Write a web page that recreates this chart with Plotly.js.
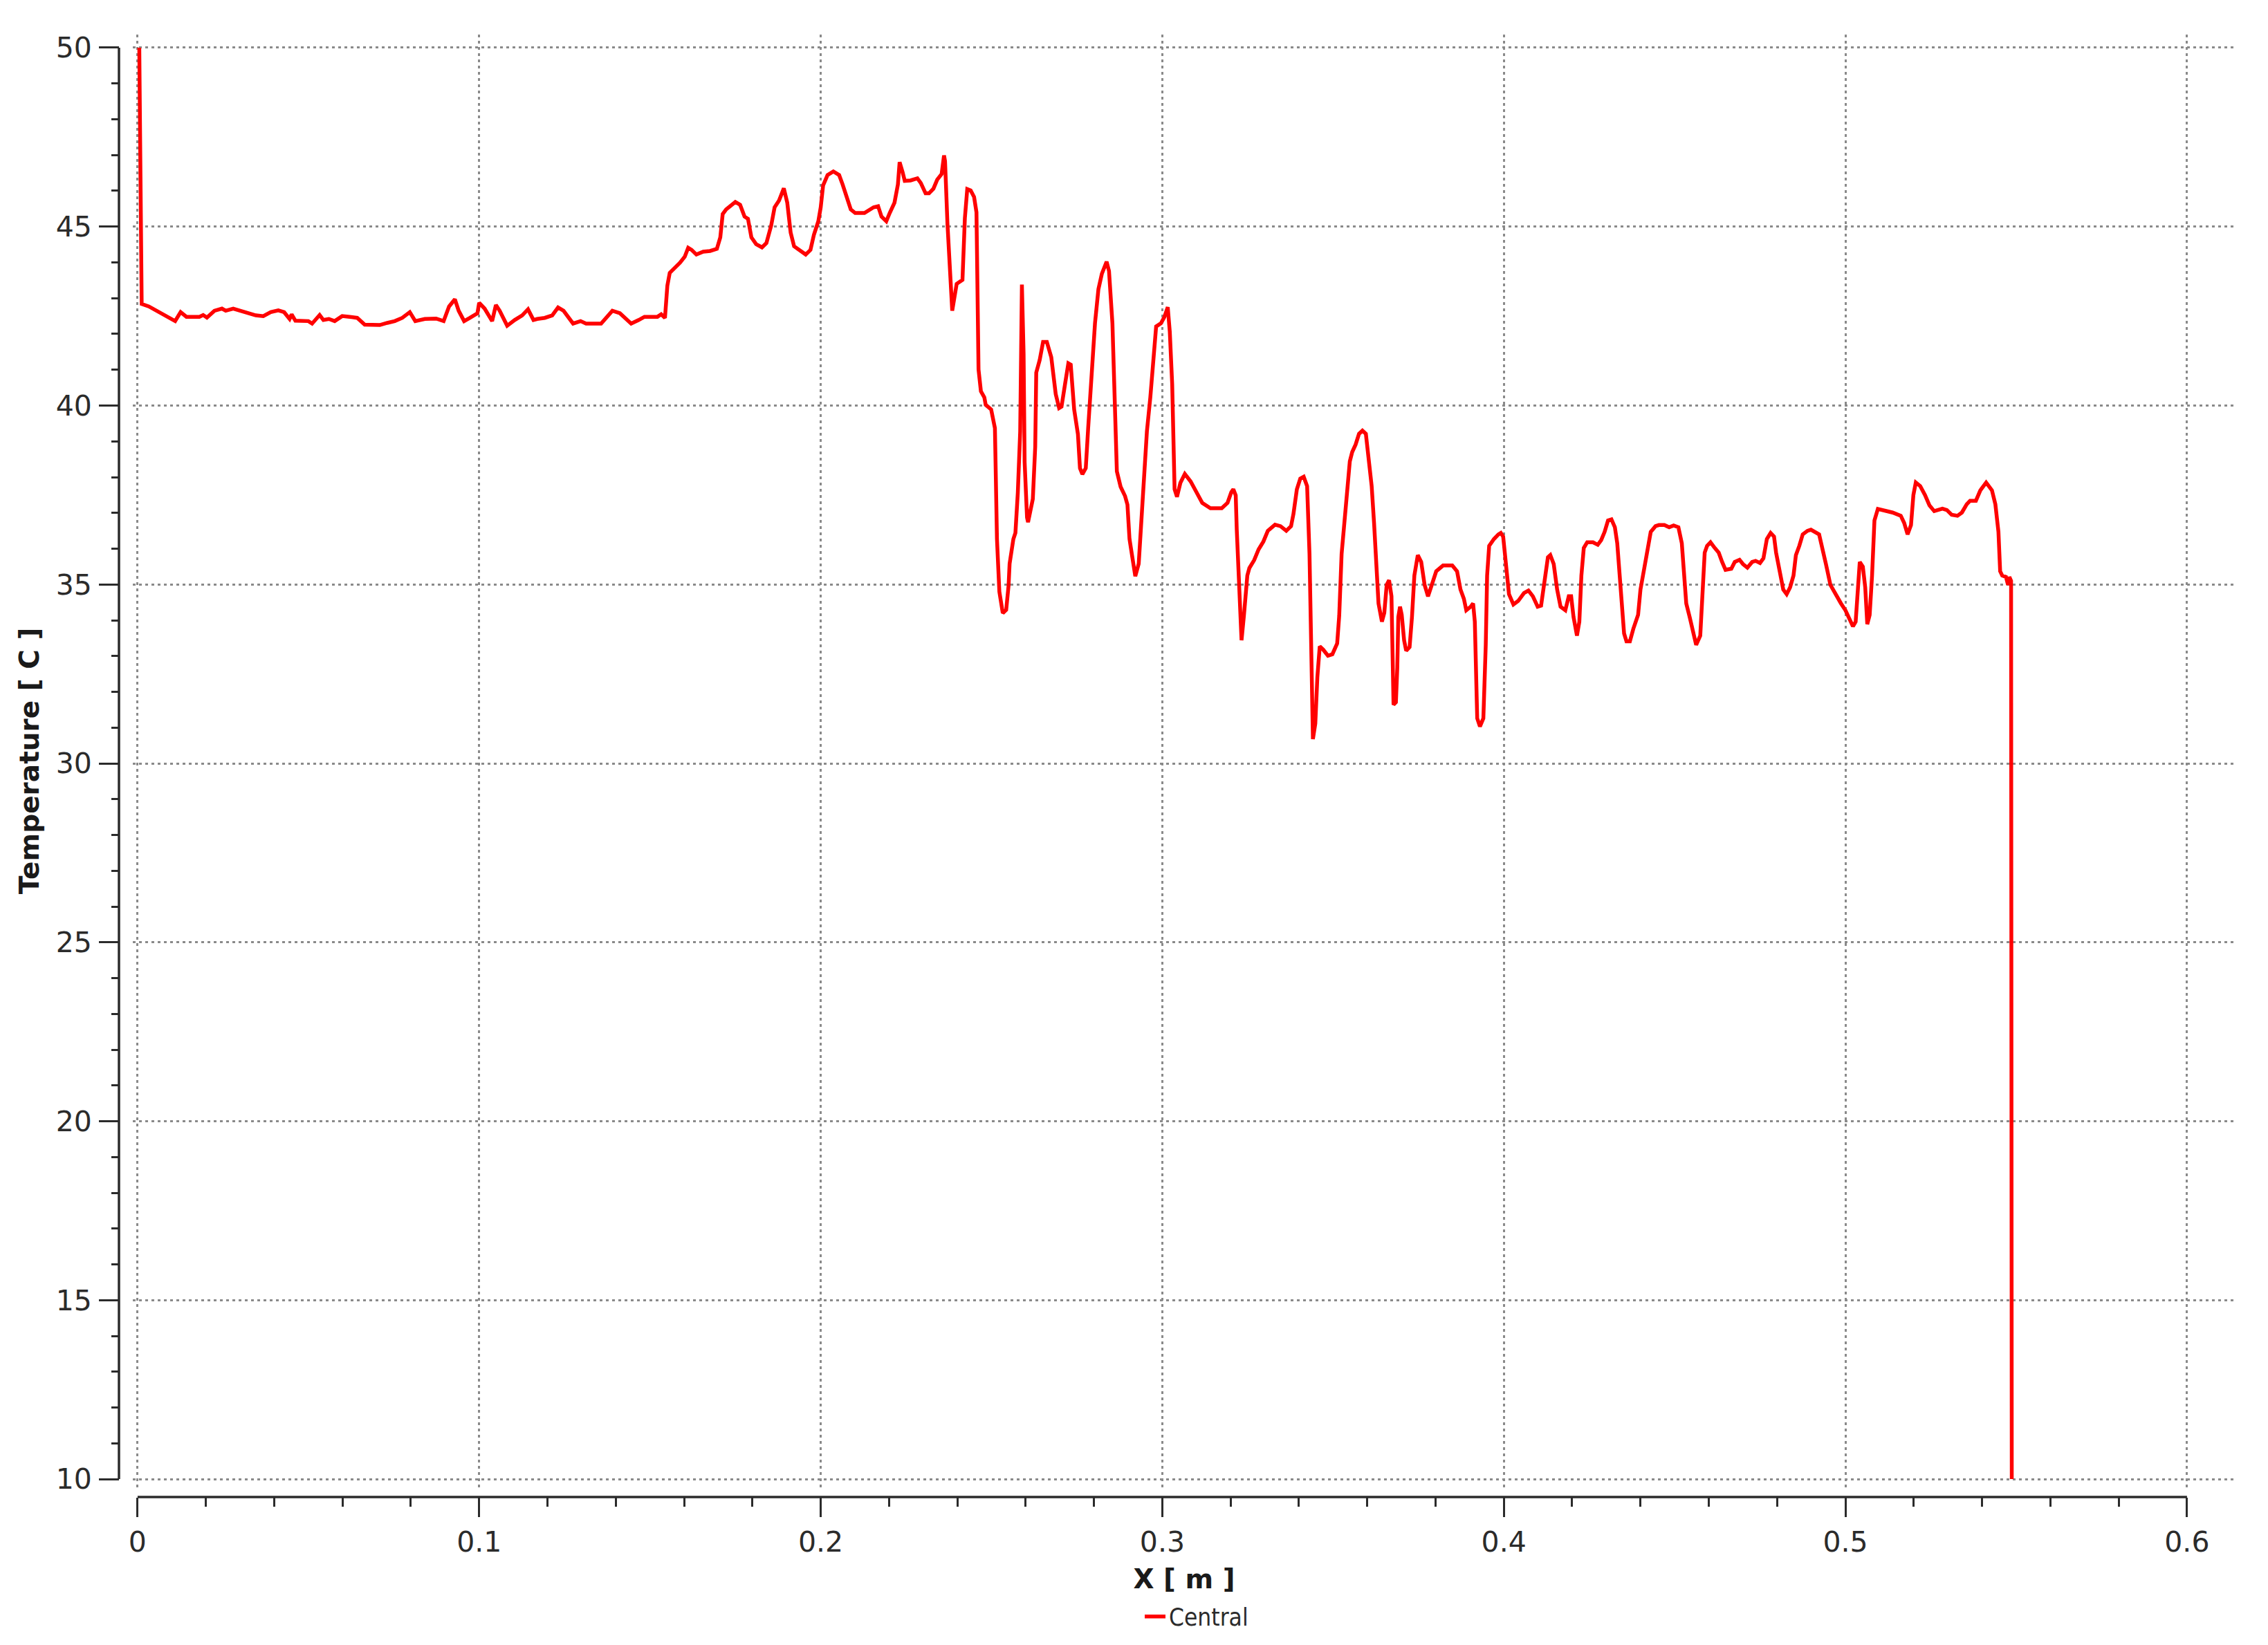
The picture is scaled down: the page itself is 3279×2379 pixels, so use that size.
<!DOCTYPE html>
<html>
<head>
<meta charset="utf-8">
<script src="https://cdn.plot.ly/plotly-3.0.1.min.js"></script>
<style>
html,body{margin:0;padding:0;background:#ffffff;}
#chart{width:3279px;height:2379px;}
</style>
</head>
<body>
<div id="chart"></div>
<script>
// ---------------- data ----------------
const seriesName = 'Central';
const xTitle = 'X [ m ]';
const yTitle = 'Temperature [ C ]';

const xTickVals = [0, 0.1, 0.2, 0.3, 0.4, 0.5, 0.6];
const xTickText = ['0', '0.1', '0.2', '0.3', '0.4', '0.5', '0.6'];
const yTickVals = [10, 15, 20, 25, 30, 35, 40, 45, 50];
const yTickText = ['10', '15', '20', '25', '30', '35', '40', '45', '50'];

const xPos = [
0.0005,0.0012,0.0033,0.0049,0.0071,0.0093,0.0110,0.0126,0.0143,0.0181,
0.0192,0.0203,0.0225,0.0247,0.0258,0.0280,0.0313,0.0346,0.0368,0.0390,
0.0412,0.0429,0.0445,0.0451,0.0462,0.0500,0.0511,0.0533,0.0544,0.0560,
0.0577,0.0599,0.0621,0.0643,0.0665,0.0709,0.0731,0.0753,0.0775,0.0797,
0.0813,0.0841,0.0874,0.0896,0.0912,0.0929,0.0940,0.0956,0.0973,0.0995,
0.1000,0.1016,0.1038,0.1049,0.1060,0.1082,0.1104,0.1126,0.1143,0.1159,
0.1170,0.1192,0.1214,0.1231,0.1247,0.1275,0.1297,0.1313,0.1357,0.1374,
0.1390,0.1412,0.1445,0.1467,0.1484,0.1522,0.1533,0.1544,
0.1551,0.1558,0.1575,0.1588,0.1602,0.1612,0.1622,0.1636,0.1656,0.1676,
0.1696,0.1706,0.1713,0.1723,0.1750,0.1764,0.1777,0.1787,0.1797,0.1811,
0.1828,0.1841,0.1855,0.1865,0.1878,0.1892,0.1902,0.1912,0.1922,0.1939,
0.1956,0.1970,0.1980,0.1993,0.2000,0.2007,0.2020,0.2037,0.2054,0.2064,
0.2071,0.2081,0.2088,0.2101,0.2128,0.2155,0.2168,0.2178,0.2192,0.2202,
0.2216,0.2226,0.2231,0.2240,0.2246,0.2263,0.2283,0.2293,0.2307,0.2317,
0.2330,0.2341,0.2354,0.2361,0.2364,0.2371,0.2378,0.2385,
0.2398,0.2415,0.2422,0.2429,0.2439,0.2449,0.2456,0.2459,0.2462,0.2469,
0.2479,0.2483,0.2499,0.2510,0.2513,0.2516,0.2523,0.2533,0.2543,0.2550,
0.2553,0.2564,0.2570,0.2577,0.2584,0.2589,0.2594,0.2597,0.2604,0.2607,
0.2621,0.2628,0.2631,0.2641,0.2651,0.2662,0.2675,0.2682,0.2688,0.2698,
0.2705,0.2715,0.2725,0.2732,0.2742,0.2753,0.2759,0.2766,0.2776,0.2783,
0.2793,0.2803,0.2813,0.2823,0.2837,0.2844,0.2854,0.2860,0.2867,0.2878,
0.2891,0.2898,0.2904,0.2911,0.2921,0.2931,0.2938,0.2948,0.2955,0.2965,
0.2975,0.2982,0.2996,0.3006,0.3016,
0.3022,0.3029,0.3033,0.3036,0.3043,0.3053,0.3066,0.3083,0.3100,0.3117,
0.3141,0.3174,0.3191,0.3202,0.3208,0.3215,0.3218,0.3225,0.3232,0.3239,
0.3249,0.3255,0.3269,0.3282,0.3296,0.3309,0.3330,0.3346,0.3363,0.3377,
0.3384,0.3394,0.3404,0.3414,0.3424,0.3431,0.3438,0.3441,0.3448,0.3454,
0.3461,0.3471,0.3485,0.3498,0.3512,0.3518,0.3525,0.3532,0.3542,0.3549,
0.3556,0.3566,0.3576,0.3586,0.3596,0.3603,0.3613,0.3620,0.3626,0.3633,
0.3643,
0.3650,0.3657,0.3664,0.3671,0.3674,0.3677,0.3684,0.3688,0.3691,0.3696,
0.3701,0.3708,0.3714,0.3724,0.3731,0.3738,0.3748,0.3758,0.3768,0.3778,
0.3789,0.3802,0.3822,0.3849,0.3863,0.3873,0.3883,0.3890,0.3903,0.3910,
0.3915,0.3918,0.3922,0.3930,0.3940,0.3947,0.3951,0.3957,0.3971,0.3984,
0.3991,0.3998,0.4008,0.4015,0.4028,0.4042,0.4059,0.4072,0.4085,0.4099,
0.4109,0.4119,0.4129,0.4136,0.4146,0.4156,0.4166,0.4180,0.4190,0.4197,
0.4204,0.4214,
0.4221,0.4227,0.4234,0.4244,0.4261,0.4275,0.4285,0.4295,0.4305,0.4315,
0.4325,0.4332,0.4339,0.4346,0.4352,0.4359,0.4369,0.4379,0.4393,0.4400,
0.4410,0.4420,0.4430,0.4444,0.4454,0.4470,0.4484,0.4497,0.4511,0.4521,
0.4528,0.4534,0.4544,0.4555,0.4563,0.4575,0.4581,0.4588,0.4595,0.4605,
0.4615,0.4629,0.4639,0.4649,0.4666,0.4676,0.4690,0.4700,0.4713,0.4727,
0.4737,0.4750,0.4760,0.4770,0.4781,0.4791,0.4797,0.4808,0.4818,0.4828,
0.4838,0.4848,0.4855,0.4865,0.4875,0.4889,0.4899,
0.4923,0.4933,0.4943,0.4956,0.4970,0.4987,0.5000,0.5014,0.5022,0.5030,
0.5036,0.5042,0.5051,0.5058,0.5064,0.5071,0.5078,0.5085,0.5095,0.5118,
0.5138,0.5162,0.5172,0.5182,0.5192,0.5199,0.5206,0.5219,0.5233,0.5246,
0.5260,0.5284,0.5297,0.5311,0.5328,0.5341,0.5355,0.5365,0.5382,0.5395,
0.5412,0.5429,0.5439,0.5448,0.5453,0.5459,0.5470,0.5476,0.5480,0.5485,
0.5487
];

const temperature = [
50.00,42.84,42.77,42.68,42.55,42.45,42.36,42.61,42.48,42.48,
42.53,42.46,42.65,42.71,42.65,42.71,42.61,42.52,42.50,42.61,
42.66,42.61,42.42,42.55,42.37,42.36,42.29,42.53,42.39,42.42,
42.36,42.50,42.48,42.45,42.26,42.25,42.31,42.36,42.45,42.61,
42.36,42.42,42.43,42.36,42.77,42.97,42.65,42.36,42.45,42.58,
42.87,42.71,42.36,42.81,42.65,42.23,42.39,42.52,42.69,42.39,
42.42,42.45,42.52,42.74,42.65,42.29,42.36,42.29,42.29,42.48,
42.65,42.58,42.29,42.39,42.48,42.48,42.55,42.45,
43.35,43.71,43.87,43.99,44.16,44.41,44.35,44.22,44.30,44.32,
44.38,44.70,45.35,45.48,45.69,45.61,45.28,45.22,44.70,44.51,
44.42,44.54,45.03,45.54,45.73,46.07,45.67,44.83,44.45,44.33,
44.22,44.35,44.77,45.15,45.54,46.15,46.44,46.54,46.44,46.18,
45.99,45.67,45.48,45.38,45.38,45.54,45.57,45.28,45.15,45.38,
45.67,46.18,46.80,46.51,46.28,46.29,46.35,46.22,45.93,45.93,
46.06,46.31,46.47,46.99,46.83,45.09,43.99,42.65,
43.40,43.51,45.23,46.05,46.01,45.83,45.40,43.16,41.01,40.40,
40.23,40.02,39.89,39.37,37.99,36.27,34.80,34.20,34.29,34.97,
35.58,36.27,36.44,37.56,39.28,43.38,41.44,38.42,36.87,36.74,
37.39,38.85,40.92,41.27,41.78,41.78,41.35,40.83,40.32,39.93,
39.97,40.58,41.18,41.14,39.89,39.20,38.25,38.08,38.25,39.37,
40.75,42.30,43.25,43.68,44.02,43.76,42.30,40.15,38.16,37.73,
37.47,37.23,36.27,35.84,35.23,35.58,36.70,38.16,39.28,40.23,
41.44,42.21,42.30,42.47,42.75,
42.06,40.59,39.30,37.66,37.45,37.84,38.09,37.88,37.58,37.28,
37.13,37.13,37.28,37.58,37.66,37.49,36.54,34.99,33.44,34.13,
35.25,35.46,35.68,35.98,36.20,36.50,36.67,36.63,36.50,36.63,
36.97,37.66,37.96,38.01,37.75,35.85,32.41,30.68,31.11,32.41,
33.27,33.18,33.01,33.05,33.35,34.13,35.85,36.54,37.75,38.44,
38.70,38.91,39.21,39.30,39.21,38.61,37.75,36.72,35.59,34.47,
33.96,
34.21,34.99,35.12,34.67,33.31,31.64,31.71,32.67,34.09,34.38,
34.15,33.44,33.15,33.25,34.09,35.25,35.82,35.63,34.99,34.67,
34.99,35.37,35.53,35.53,35.37,34.86,34.60,34.28,34.38,34.47,
33.96,32.67,31.26,31.03,31.26,33.31,35.25,36.08,36.27,36.40,
36.44,36.34,35.37,34.73,34.44,34.54,34.76,34.83,34.67,34.38,
34.41,35.12,35.76,35.82,35.57,34.86,34.38,34.28,34.67,34.67,
34.09,33.57,
33.96,35.25,36.02,36.18,36.18,36.11,36.24,36.47,36.79,36.82,
36.60,36.15,35.25,34.28,33.63,33.41,33.41,33.76,34.15,34.86,
35.37,35.89,36.47,36.63,36.66,36.66,36.60,36.65,36.60,36.15,
35.37,34.47,34.09,33.57,33.31,33.57,34.60,35.89,36.08,36.18,
36.05,35.89,35.63,35.41,35.44,35.63,35.69,35.57,35.47,35.63,
35.66,35.60,35.73,36.27,36.44,36.34,35.89,35.31,34.86,34.73,
34.92,35.25,35.82,36.08,36.40,36.50,36.53,
36.40,36.02,35.57,34.99,34.73,34.47,34.28,33.96,33.83,33.96,
34.73,35.63,35.50,34.92,33.89,34.15,35.25,36.79,37.11,37.05,
37.01,36.92,36.72,36.40,36.66,37.50,37.85,37.75,37.50,37.21,
37.05,37.12,37.08,36.95,36.92,37.01,37.24,37.34,37.34,37.63,
37.85,37.63,37.24,36.47,35.37,35.25,35.21,34.99,35.21,35.10,
10.00
];

// ---------------- geometry (pixels) ----------------
const FIG_W = 3279, FIG_H = 2379;
const M = {l: 100, r: 20, t: 20, b: 100};
const PW = FIG_W - M.l - M.r, PH = FIG_H - M.t - M.b;
const gridLeft = 192, gridRight = 3232, gridTop = 50, gridBottom = 2153;
const xAxisLinePx = 2167, yAxisLinePx = 172;
const toPaperX = px => (px - M.l) / PW;
const toPaperY = py => (FIG_H - M.b - py) / PH;

const axisColor = '#2b2b2b';
const gridColor = '#8a8a8a';
const tickFont = {family: 'DejaVu Sans, Verdana, sans-serif', size: 41, color: '#2b2b2b'};
const titleFont = {family: 'DejaVu Sans, Verdana, sans-serif', size: 39, color: '#1a1a1a'};

const trace = {
  type: 'scatter',
  mode: 'lines',
  name: seriesName,
  x: xPos,
  y: temperature,
  line: {color: '#ff0000', width: 5.5},
  hoverinfo: 'x+y'
};

const layout = {
  width: FIG_W,
  height: FIG_H,
  margin: M,
  paper_bgcolor: '#ffffff',
  plot_bgcolor: '#ffffff',
  showlegend: true,
  legend: {
    x: toPaperX(1650), xanchor: 'left',
    y: toPaperY(2340), yanchor: 'middle',
    font: {family: 'DejaVu Sans Condensed, DejaVu Sans, sans-serif', size: 35, color: '#2b2b2b'},
    bgcolor: 'rgba(0,0,0,0)',
    borderwidth: 0
  },
  xaxis: {
    domain: [toPaperX(gridLeft), toPaperX(gridRight)],
    range: [-0.0014, 0.6142],
    anchor: 'free',
    position: toPaperY(xAxisLinePx),
    tickmode: 'array',
    tickvals: xTickVals,
    ticktext: xTickText,
    ticks: 'outside',
    ticklen: 28,
    tickwidth: 3,
    tickcolor: axisColor,
    ticklabelstandoff: 1,
    tickfont: tickFont,
    minor: {tickmode: 'linear', tick0: 0, dtick: 0.02, ticks: 'outside', ticklen: 13, tickwidth: 3, tickcolor: axisColor, showgrid: false},
    showline: false,
    zeroline: false,
    showgrid: true,
    gridcolor: gridColor,
    gridwidth: 3,
    griddash: '4px,5px',
    automargin: false,
    title: {text: '<b>' + xTitle + '</b>', font: titleFont, standoff: 16}
  },
  yaxis: {
    domain: [toPaperY(gridBottom), toPaperY(gridTop)],
    range: [9.768, 50.367],
    anchor: 'free',
    position: toPaperX(yAxisLinePx),
    tickmode: 'array',
    tickvals: yTickVals,
    ticktext: yTickText,
    ticks: 'outside',
    ticklen: 29,
    tickwidth: 3,
    tickcolor: axisColor,
    ticklabelstandoff: 2,
    tickfont: tickFont,
    minor: {tickmode: 'linear', tick0: 10, dtick: 1, ticks: 'outside', ticklen: 11, tickwidth: 3, tickcolor: axisColor, showgrid: false},
    showline: false,
    zeroline: false,
    showgrid: true,
    gridcolor: gridColor,
    gridwidth: 3,
    griddash: '4px,5px',
    automargin: false,
    title: {text: '<b>' + yTitle + '</b>', font: titleFont, standoff: 10}
  },
  shapes: [
    {type: 'line', xref: 'x', yref: 'paper', x0: xTickVals[0], x1: xTickVals[xTickVals.length - 1],
     y0: toPaperY(xAxisLinePx), y1: toPaperY(xAxisLinePx), line: {color: axisColor, width: 3.5}, layer: 'above'},
    {type: 'line', xref: 'paper', yref: 'y', x0: toPaperX(yAxisLinePx), x1: toPaperX(yAxisLinePx),
     y0: yTickVals[0], y1: yTickVals[yTickVals.length - 1], line: {color: axisColor, width: 3.5}, layer: 'above'}
  ]
};

Plotly.newPlot('chart', [trace], layout, {displayModeBar: false, staticPlot: true});
</script>
</body>
</html>
